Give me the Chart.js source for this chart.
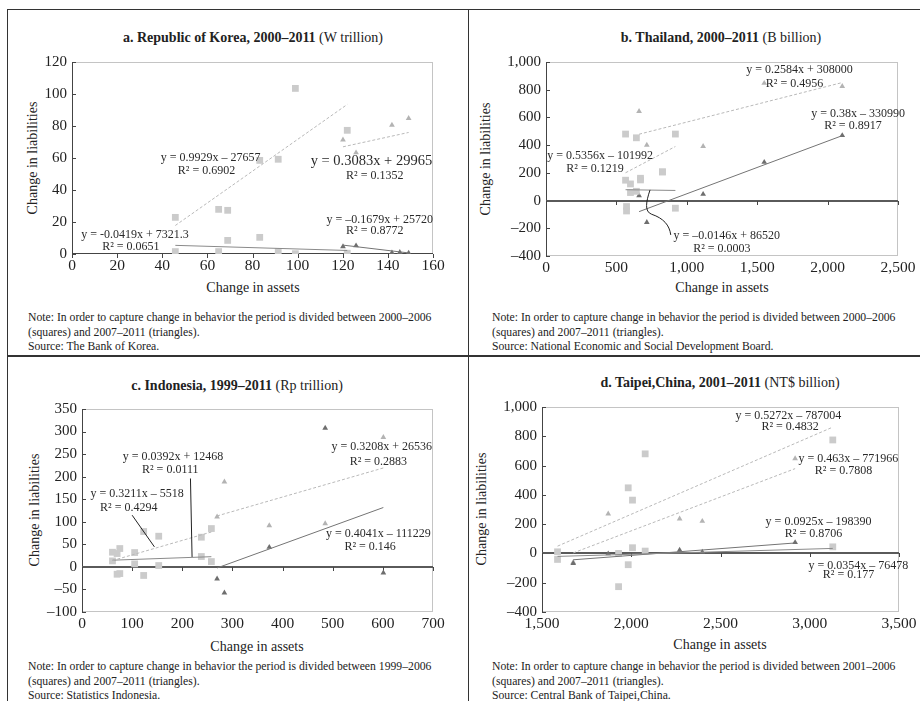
<!DOCTYPE html>
<html>
<head>
<meta charset="utf-8">
<script src="https://cdn.jsdelivr.net/npm/chart.js@4.4.0/dist/chart.umd.min.js"></script>
<style>
body { margin: 0; background: #fff; width: 920px; height: 701px; position: relative; overflow: hidden; font-family: 'Liberation Serif', serif; color: #222; }
canvas { position: absolute; }
.rule { position: absolute; background: #333; }
.t { position: absolute; white-space: nowrap; transform: translate(-50%, -50%); }
.title { font-size: 14px; }
.axt { font-size: 14px; }
.yt { transform: translate(-50%, -50%) rotate(-90deg); }
.note { position: absolute; white-space: nowrap; font-size: 11.7px; line-height: 14.5px; }
</style>
</head>
<body>
<div class="rule" style="left:7px;top:9px;width:913px;height:1px"></div>
<div class="rule" style="left:7px;top:9px;width:1px;height:692px"></div>
<div class="rule" style="left:468px;top:9px;width:1px;height:692px"></div>
<div class="rule" style="left:7px;top:355px;width:913px;height:2px"></div>

<div class="t title" style="left:253px;top:38px"><b>a. Republic of Korea, 2000–2011</b> (W trillion)</div>
<div class="t title" style="left:721px;top:38px"><b>b. Thailand, 2000–2011</b> (B billion)</div>
<div class="t title" style="left:237px;top:386px"><b>c. Indonesia, 1999–2011</b> (Rp trillion)</div>
<div class="t title" style="left:720px;top:383px"><b>d. Taipei,China, 2001–2011</b> (NT$ billion)</div>

<div class="t axt yt" style="left:33px;top:158px">Change in liabilities</div>
<div class="t axt yt" style="left:486px;top:159px">Change in liabilities</div>
<div class="t axt yt" style="left:35px;top:510px">Change in liabilities</div>
<div class="t axt yt" style="left:482px;top:509px">Change in liabilities</div>

<div class="t axt" style="left:253px;top:288px">Change in assets</div>
<div class="t axt" style="left:722px;top:288px">Change in assets</div>
<div class="t axt" style="left:257px;top:647px">Change in assets</div>
<div class="t axt" style="left:720px;top:645px">Change in assets</div>

<div class="note" style="left:28px;top:311px">Note: In order to capture change in behavior the period is divided between 2000–2006<br>(squares) and 2007–2011 (triangles).<br>Source: The Bank of Korea.</div>
<div class="note" style="left:492px;top:311px">Note: In order to capture change in behavior the period is divided between 2000–2006<br>(squares) and 2007–2011 (triangles).<br>Source: National Economic and Social Development Board.</div>
<div class="note" style="left:28px;top:660px">Note: In order to capture change in behavior the period is divided between 1999–2006<br>(squares) and 2007–2011 (triangles).<br>Source: Statistics Indonesia.</div>
<div class="note" style="left:492px;top:660px">Note: In order to capture change in behavior the period is divided between 2001–2006<br>(squares) and 2007–2011 (triangles).<br>Source: Central Bank of Taipei,China.</div>

<canvas id="korea" width="460" height="235" style="left:0;top:45px"></canvas>
<canvas id="thai" width="452" height="235" style="left:468px;top:45px"></canvas>
<canvas id="indo" width="460" height="243" style="left:0;top:392px"></canvas>
<canvas id="taipei" width="452" height="243" style="left:468px;top:392px"></canvas>

<script>
// Republic of Korea (W trillion)
const koreaSqX = [45.8, 65, 69, 83.2, 91.4, 99, 122];
const koreaSqA = [22.9, 27.9, 27.3, 58.5, 59.2, 103.5, 77.3];
const koreaSqB = [1.5, 1.5, 8.5, 10.4, 1.5, 0.2, 0.5];
const koreaTriX = [120.1, 125.9, 141.8, 145.3, 149.2];
const koreaTriA = [71.3, 63.3, 80.6, null, 84.8];
const koreaTriB = [4.6, 5.2, 0.8, 1.0, 0.6];
// slope, intercept (billions) for: squares A, squares B, triangles A, triangles B
const koreaFits = [[0.9929, -27657], [-0.0419, 7321.3], [0.3083, 29965], [-0.1679, 25720]];

// Thailand (B billion)
const thaiSqX = [565, 572, 600, 642, 671, 827, 919];
const thaiSqA = [480, -43, 120, 453, 161, 207, 480];
const thaiSqB = [147, -75, 58, 67, 149, 207, -55];
const thaiTriX = [661, 716, 1116, 1550, 2104];
const thaiTriA = [644, 400, 391, 847, 825];
const thaiTriB = [36, -157, 46, 277, 470];
const thaiFits = [[0.5356, -101992], [-0.0146, 86520], [0.2584, 308000], [0.38, -330990]];

// Indonesia (Rp trillion)
const indoSqX = [60.8, 70, 75.4, 105, 123, 153, 238, 258];
const indoSqA = [32.5, -16.3, 40.7, 31.8, -19, 68, 65.8, 85];
const indoSqB = [13.3, 29.6, -14.8, 6.7, 78.4, 3, 23, 11.8];
const indoTriX = [269.4, 284, 373.5, 485, 601];
const indoTriA = [111, 188.6, 91.7, 96, 287];
const indoTriB = [-26.6, -57.7, 43.6, 307.7, -13.3];
const indoFits = [[0.3211, -5518], [0.0392, 12468], [0.3208, 26536], [0.4041, -111229]];

// Taipei,China (NT$ billion)
const taipeiSqX = [1587, 1929, 1983, 2007, 2078, 3129];
const taipeiSqA = [-41, -227, 448, 364, 680, 775];
const taipeiSqB = [11, 0, -77, 39, 16, 45];
const taipeiTriX = [1675, 1871, 2271, 2398, 2918];
const taipeiTriA = [-61, 270, 236, 220, 648];
const taipeiTriB = [-67, -2, 23, 9, 75];
const taipeiFits = [[0.5272, -787004], [0.0354, -76478], [0.463, -771966], [0.0925, -198390]];

const FONT = 'Liberation Serif';
const SQ = '#cbcbcb', TRI_LIGHT = '#b3b3b3', TRI_DARK = '#6e6e6e';

function pts(xs, ys) {
  return xs.map((x, i) => ({ x: x, y: ys[i] })).filter(p => p.y !== null);
}

function marks(xs, ys, style, color, r) {
  return { data: pts(xs, ys), pointStyle: style, pointRadius: r, pointHoverRadius: r,
    backgroundColor: color, borderWidth: 0, showLine: false };
}

// excel-style linear trendline over the x range of its series (intercepts printed in thousandths of axis units)
function fit(xs, coef, color, dashed) {
  const lo = Math.min(...xs), hi = Math.max(...xs);
  const f = x => coef[0] * x + coef[1] / 1000;
  return { data: [{ x: lo, y: f(lo) }, { x: hi, y: f(hi) }], showLine: true, pointRadius: 0,
    borderColor: color, borderWidth: 1, borderDash: dashed ? [3, 2] : [], fill: false };
}

function series(sqX, sqA, sqB, triX, triA, triB, fits) {
  return [
    fit(sqX, fits[0], '#b9b9b9', true),
    fit(sqX, fits[1], '#8a8a8a', false),
    fit(triX, fits[2], '#b9b9b9', true),
    fit(triX, fits[3], '#747474', false),
    marks(sqX, sqA, 'rect', SQ, 4.8),
    marks(sqX, sqB, 'rect', SQ, 4.8),
    marks(triX, triB, 'triangle', TRI_DARK, 3.3),
    marks(triX, triA, 'triangle', TRI_LIGHT, 3.3)
  ];
}

function tickText(v) {
  const s = Math.abs(v).toLocaleString('en-US');
  return v < 0 ? '–' + s : s;
}

// plot border, left axis, base line and short tick marks
const axesPlugin = {
  id: 'axes',
  beforeDatasetsDraw(chart, args, opts) {
    const { ctx, chartArea: a, scales: { x, y } } = chart;
    const L = Math.round(a.left), T = Math.round(a.top), R = Math.round(a.right), B = Math.round(a.bottom);
    ctx.save();
    ctx.strokeStyle = '#c4c4c4';
    ctx.lineWidth = 1;
    ctx.strokeRect(L + 0.5, T + 0.5, R - L - 1, B - T - 1);
    ctx.strokeStyle = '#444';
    ctx.beginPath();
    ctx.moveTo(L + 0.5, T);
    ctx.lineTo(L + 0.5, B);
    ctx.stroke();
    y.ticks.forEach(t => {
      const py = Math.round(y.getPixelForValue(t.value)) + 0.5;
      ctx.beginPath();
      ctx.moveTo(L, py);
      ctx.lineTo(L + 4, py);
      ctx.stroke();
    });
    const base = Math.round(y.getPixelForValue(0));
    ctx.strokeStyle = opts.baseWidth > 1 ? '#5a5a5a' : '#444';
    ctx.lineWidth = opts.baseWidth;
    ctx.beginPath();
    ctx.moveTo(L, base + (opts.baseWidth > 1 ? 0 : -0.5));
    ctx.lineTo(R, base + (opts.baseWidth > 1 ? 0 : -0.5));
    ctx.stroke();
    ctx.lineWidth = 1;
    ctx.strokeStyle = '#444';
    x.ticks.forEach(t => {
      const px = Math.round(x.getPixelForValue(t.value)) + 0.5;
      ctx.beginPath();
      ctx.moveTo(px, base);
      ctx.lineTo(px, base + 4);
      ctx.stroke();
    });
    ctx.restore();
  }
};

// trendline equations and leader lines, placed in data coordinates
const notesPlugin = {
  id: 'notes',
  afterDatasetsDraw(chart, args, opts) {
    const { ctx, scales: { x, y } } = chart;
    const P = p => [x.getPixelForValue(p[0]), y.getPixelForValue(p[1])];
    ctx.save();
    ctx.strokeStyle = '#222';
    ctx.lineWidth = 1;
    (opts.leaders || []).forEach(l => {
      const q = l.map(P);
      ctx.beginPath();
      ctx.moveTo(q[0][0], q[0][1]);
      if (q.length === 7) {
        ctx.bezierCurveTo(q[1][0], q[1][1], q[2][0], q[2][1], q[3][0], q[3][1]);
        ctx.bezierCurveTo(q[4][0], q[4][1], q[5][0], q[5][1], q[6][0], q[6][1]);
      } else {
        q.slice(1).forEach(p => ctx.lineTo(p[0], p[1]));
      }
      ctx.stroke();
    });
    ctx.fillStyle = '#2a2a2a';
    ctx.textAlign = 'center';
    ctx.textBaseline = 'middle';
    (opts.labels || []).forEach(l => {
      ctx.font = (l.size || 12) + 'px "' + FONT + '"';
      const p = P([l.x, l.y]);
      ctx.fillText(l.text, p[0], p[1]);
    });
    ctx.restore();
  }
};

function panel(id, datasets, xr, yr, box, baseWidth, labels, leaders) {
  return new Chart(document.getElementById(id), {
    type: 'scatter',
    data: { datasets: datasets },
    plugins: [axesPlugin, notesPlugin],
    options: {
      responsive: false,
      animation: false,
      devicePixelRatio: 1,
      layout: { padding: { left: 0, top: box.top, right: box.right, bottom: 0 } },
      plugins: {
        legend: { display: false },
        tooltip: { enabled: false },
        axes: { baseWidth: baseWidth },
        notes: { labels: labels, leaders: leaders || [] }
      },
      scales: {
        x: {
          min: xr[0], max: xr[1],
          border: { display: false },
          grid: { display: false, drawTicks: false },
          ticks: { stepSize: xr[2], padding: 3, color: '#222', font: { family: FONT, size: 15.5 }, callback: tickText, maxRotation: 0 },
          afterFit: s => { s.height = box.xh; }
        },
        y: {
          min: yr[0], max: yr[1],
          border: { display: false },
          grid: { display: false, drawTicks: false },
          ticks: { stepSize: yr[2], padding: 5, color: '#222', font: { family: FONT, size: 15 }, callback: tickText },
          afterFit: s => { s.width = box.yw; }
        }
      }
    }
  });
}

panel('korea', series(koreaSqX, koreaSqA, koreaSqB, koreaTriX, koreaTriA, koreaTriB, koreaFits),
  [0, 160, 20], [0, 120, 20], { top: 17, right: 27, xh: 26, yw: 72 }, 1, [
    { text: 'y = 0.9929x – 27657', x: 61.4, y: 59.8 },
    { text: 'R² = 0.6902', x: 59.6, y: 52 },
    { text: 'y = 0.3083x + 29965', x: 132.7, y: 57.7, size: 14.5 },
    { text: 'R² = 0.1352', x: 134.2, y: 48.8 },
    { text: 'y = –0.1679x + 25720', x: 136.4, y: 21.3 },
    { text: 'R² = 0.8772', x: 134.2, y: 14.4 },
    { text: 'y = -0.0419x + 7321.3', x: 27.9, y: 11.7 },
    { text: 'R² = 0.0651', x: 26.1, y: 4.6 }
  ]);

panel('thai', series(thaiSqX, thaiSqA, thaiSqB, thaiTriX, thaiTriA, thaiTriB, thaiFits),
  [0, 2500, 500], [-400, 1000, 200], { top: 17, right: 22, xh: 24, yw: 78 }, 2, [
    { text: 'y = 0.2584x + 308000', x: 1801, y: 945 },
    { text: 'R² = 0.4956', x: 1765, y: 843 },
    { text: 'y = 0.38x – 330990', x: 2216, y: 624 },
    { text: 'R² = 0.8917', x: 2180, y: 540 },
    { text: 'y = 0.5356x – 101992', x: 384, y: 323 },
    { text: 'R² = 0.1219', x: 348, y: 226 },
    { text: 'y = –0.0146x + 86520', x: 1284, y: -255 },
    { text: 'R² = 0.0003', x: 1249, y: -345 }
  ], [
    [[739, 77], [711, -7], [697, -80], [751, -99], [834, -128], [877, -176], [886, -248]]
  ]);

panel('indo', series(indoSqX, indoSqA, indoSqB, indoTriX, indoTriA, indoTriB, indoFits),
  [0, 700, 100], [-100, 350, 50], { top: 17, right: 27, xh: 23, yw: 82 }, 2, [
    { text: 'y = 0.0392x + 12468', x: 181.6, y: 244 },
    { text: 'R² = 0.0111', x: 176, y: 214.5 },
    { text: 'y = 0.3211x – 5518', x: 110, y: 162.7 },
    { text: 'R² = 0.4294', x: 93.3, y: 131.7 },
    { text: 'y = 0.3208x + 26536', x: 598, y: 266 },
    { text: 'R² = 0.2883', x: 591, y: 233 },
    { text: 'y = 0.4041x – 111229', x: 591, y: 74 },
    { text: 'R² = 0.146', x: 574.7, y: 44.4 }
  ], [
    [[216.3, 196], [219.5, 22]],
    [[100, 114.6], [144.4, 44.4]]
  ]);

panel('taipei', series(taipeiSqX, taipeiSqA, taipeiSqB, taipeiTriX, taipeiTriA, taipeiTriB, taipeiFits),
  [1500, 3500, 500], [-400, 1000, 200], { top: 15, right: 21, xh: 23, yw: 74 }, 2, [
    { text: 'y = 0.5272x – 787004', x: 2880, y: 943 },
    { text: 'R² = 0.4832', x: 2890, y: 864 },
    { text: 'y = 0.463x – 771966', x: 3217, y: 648 },
    { text: 'R² = 0.7808', x: 3189, y: 564 },
    { text: 'y = 0.0925x – 198390', x: 3049, y: 216 },
    { text: 'R² = 0.8706', x: 3021, y: 136 },
    { text: 'y = 0.0354x – 76478', x: 3273, y: -86 },
    { text: 'R² = 0.177', x: 3217, y: -148 }
  ]);
</script>
</body>
</html>
